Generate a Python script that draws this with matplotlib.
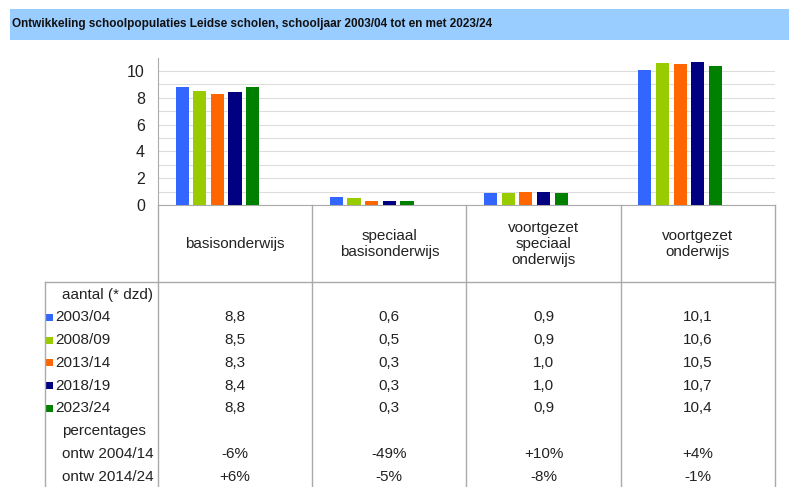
import matplotlib.pyplot as plt
from matplotlib.patches import Rectangle

W, H = 789, 487

# data
categories = ["basisonderwijs", "speciaal\nbasisonderwijs",
              "voortgezet\nspeciaal\nonderwijs", "voortgezet\nonderwijs"]
years = ["2003/04", "2008/09", "2013/14", "2018/19", "2023/24"]
# aantal leerlingen (* dzd) per jaar, per categorie
aantal = [
    [8.8, 0.6, 0.9, 10.1],
    [8.5, 0.5, 0.9, 10.6],
    [8.3, 0.3, 1.0, 10.5],
    [8.4, 0.3, 1.0, 10.7],
    [8.8, 0.3, 0.9, 10.4],
]
pct_labels = ["ontw 2004/14", "ontw 2014/24"]
pct_values = [
    ["-6%", "-49%", "+10%", "+4%"],
    ["+6%", "-5%", "-8%", "-1%"],
]
colors = ["#3366FF", "#99CC00", "#FF6600", "#000080", "#008000"]

plt.rcParams['font.family'] = ['Liberation Sans', 'DejaVu Sans']

fig = plt.figure(figsize=(W / 100, H / 100), dpi=100)

# achtergrondlaag in pixels voor titel en tabel
ax0 = fig.add_axes([0, 0, 1, 1])
ax0.set_xlim(0, W)
ax0.set_ylim(H, 0)
ax0.axis("off")

ax0.add_patch(Rectangle((10, 9), W - 10, 31, color="#99CCFF", lw=0))
ax0.text(12, 24.5, "Ontwikkeling schoolpopulaties Leidse scholen, schooljaar 2003/04 tot en met 2023/24",
         fontweight="bold", fontsize=8.5, va="center", ha="left", color="#111111")

# grafiek
x_left, x_right, y_top, y_zero = 158, 775, 58, 205
ax = fig.add_axes([x_left / W, (H - y_zero) / H, (x_right - x_left) / W, (y_zero - y_top) / H])
ax.set_facecolor("none")
ncat = len(categories)
bw = 0.085
step = 0.1145
for k, yr in enumerate(years):
    xs = [i + 0.156 + k * step for i in range(ncat)]
    ax.bar(xs, aantal[k], width=bw, color=colors[k], zorder=3)

ax.set_xlim(0, ncat)
ax.set_ylim(0, (y_zero - y_top) / 13.4)
ax.set_yticks(range(0, 11, 2))
ax.set_yticks(range(0, 11), minor=True)
ax.grid(axis="y", which="both", color="#dddddd", lw=0.8, zorder=0)
ax.set_xticks([])
ax.tick_params(axis="y", which="both", length=0, labelsize=11.5, pad=9.5, labelcolor="#222222")
for s in ["top", "right"]:
    ax.spines[s].set_visible(False)
ax.spines["left"].set_color("#aaaaaa")
ax.spines["bottom"].set_color("#aaaaaa")

# tabel onder de grafiek
lc = "#aaaaaa"
fs = 11
tc = "#222222"
cw = (x_right - x_left) / ncat
col_edges = [x_left + i * cw for i in range(ncat + 1)]
centers = [x_left + (i + 0.5) * cw for i in range(ncat)]

ax0.plot([x_left, x_left], [y_zero, H], color=lc, lw=1)
for xe in col_edges[1:]:
    ax0.plot([xe, xe], [y_zero, H], color=lc, lw=1)
ax0.plot([45, x_right], [282, 282], color=lc, lw=1)
ax0.plot([45, 45], [282, H], color=lc, lw=1)

for i, cat in enumerate(categories):
    ax0.text(centers[i], 244, cat, ha="center", va="center", fontsize=fs,
             linespacing=1.15, color=tc)

row0, dy = 294.5, 22.8
ax0.text(62, row0, "aantal (* dzd)", ha="left", va="center", fontsize=fs, color=tc)
for k, yr in enumerate(years):
    yy = row0 + (k + 1) * dy
    ax0.add_patch(Rectangle((46.5, yy - 3.5), 7, 7, color=colors[k], lw=0))
    ax0.text(55, yy, yr, ha="left", va="center", fontsize=fs, color=tc)
    for i in range(ncat):
        ax0.text(centers[i], yy, f"{aantal[k][i]:.1f}".replace(".", ","),
                 ha="center", va="center", fontsize=fs, color=tc)

yy = row0 + 6 * dy
ax0.text(62, yy, "percentages", ha="left", va="center", fontsize=fs, color=tc)
for r, lab in enumerate(pct_labels):
    yy = row0 + (7 + r) * dy
    ax0.text(62, yy, lab, ha="left", va="center", fontsize=fs, color=tc)
    for i in range(ncat):
        ax0.text(centers[i], yy, pct_values[r][i], ha="center", va="center",
                 fontsize=fs, color=tc)

plt.savefig("out.png", dpi=100)
